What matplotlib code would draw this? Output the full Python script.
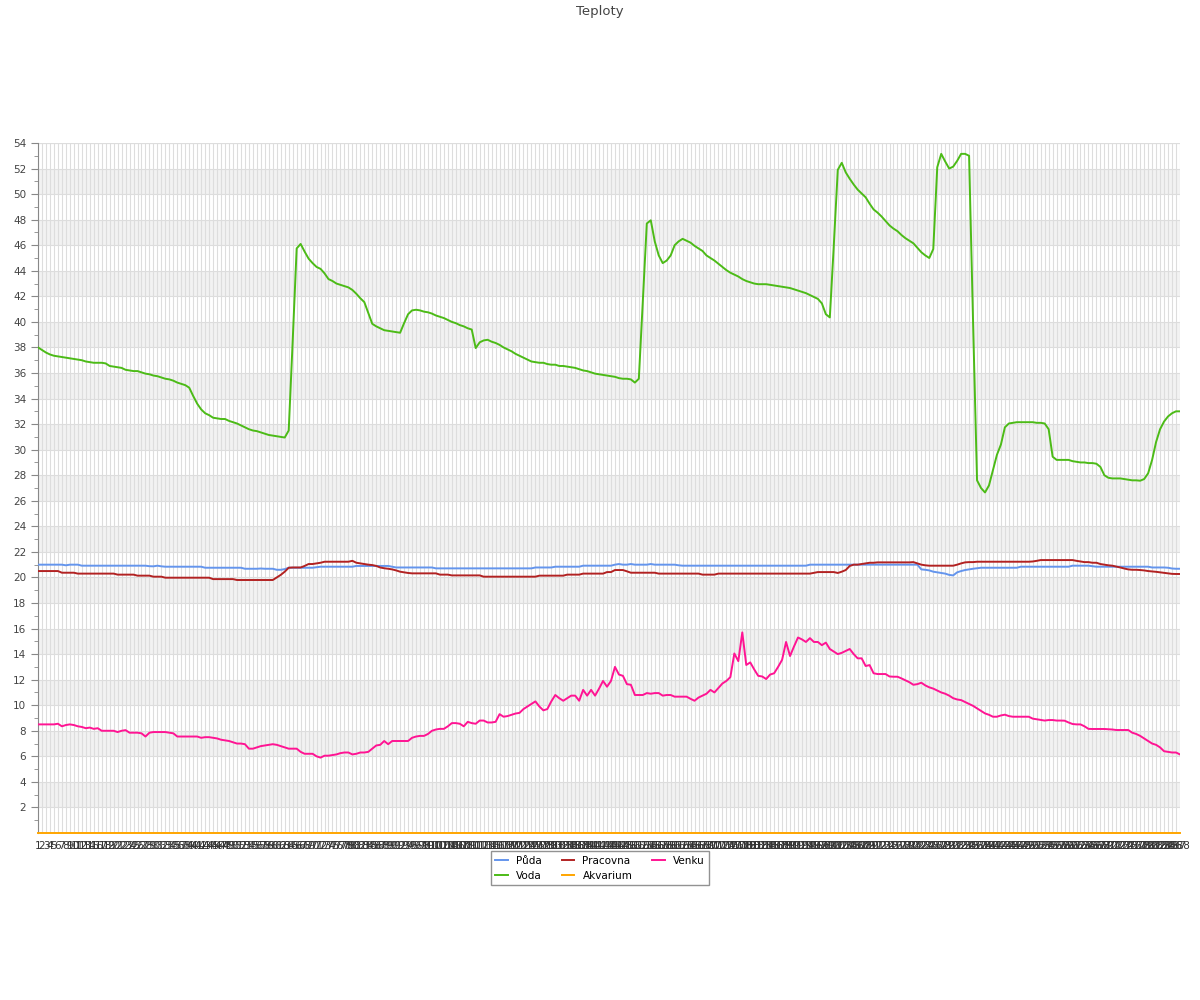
import matplotlib
matplotlib.use("Agg")
import matplotlib.pyplot as plt
import numpy as np

# 288 measurements (one per 5 min), category labels 1..288
labels = [str(i) for i in range(1, 289)]

puda = [
    21.0, 21.0, 21.0, 21.0, 21.0, 21.0, 21.0, 20.95, 21.0, 21.0,
    21.0, 20.92, 20.92, 20.92, 20.92, 20.92, 20.92, 20.92, 20.92, 20.92,
    20.92, 20.92, 20.92, 20.92, 20.92, 20.92, 20.92, 20.92, 20.88, 20.87,
    20.92, 20.87, 20.84, 20.84, 20.84, 20.84, 20.84, 20.84, 20.84, 20.84,
    20.84, 20.84, 20.76, 20.76, 20.76, 20.76, 20.76, 20.76, 20.76, 20.76,
    20.76, 20.76, 20.68, 20.68, 20.68, 20.68, 20.7, 20.68, 20.68, 20.68,
    20.6, 20.6, 20.65, 20.76, 20.76, 20.76, 20.76, 20.76, 20.76, 20.76,
    20.8, 20.84, 20.84, 20.84, 20.84, 20.84, 20.84, 20.84, 20.84, 20.84,
    20.9, 20.9, 20.9, 20.9, 20.9, 20.9, 20.9, 20.9, 20.9, 20.84,
    20.78, 20.78, 20.78, 20.78, 20.78, 20.78, 20.78, 20.78, 20.78, 20.78,
    20.71, 20.71, 20.71, 20.71, 20.71, 20.71, 20.71, 20.71, 20.71, 20.71,
    20.71, 20.71, 20.71, 20.71, 20.71, 20.71, 20.71, 20.71, 20.71, 20.71,
    20.71, 20.71, 20.71, 20.71, 20.71, 20.78, 20.78, 20.78, 20.78, 20.78,
    20.84, 20.84, 20.84, 20.84, 20.84, 20.84, 20.84, 20.92, 20.92, 20.92,
    20.92, 20.92, 20.92, 20.92, 20.92, 21.0, 21.05, 21.0, 21.0, 21.05,
    21.0, 21.0, 21.0, 21.0, 21.05, 21.0, 21.0, 21.0, 21.0, 21.0,
    21.0, 20.95, 20.92, 20.92, 20.92, 20.92, 20.92, 20.92, 20.92, 20.92,
    20.92, 20.92, 20.92, 20.92, 20.92, 20.92, 20.92, 20.92, 20.92, 20.92,
    20.92, 20.92, 20.92, 20.92, 20.92, 20.92, 20.92, 20.92, 20.92, 20.92,
    20.92, 20.92, 20.92, 20.92, 21.0, 21.0, 21.0, 21.0, 21.0, 21.0,
    21.0, 21.0, 21.0, 21.0, 21.0, 21.0, 21.0, 21.0, 21.0, 21.0,
    21.0, 21.0, 21.0, 21.0, 21.0, 21.0, 21.0, 21.0, 21.0, 21.0,
    21.0, 21.0, 20.63, 20.6, 20.55, 20.45, 20.4, 20.35, 20.3, 20.2,
    20.16, 20.4, 20.5, 20.58, 20.63, 20.68, 20.72, 20.76, 20.76, 20.76,
    20.76, 20.76, 20.76, 20.76, 20.76, 20.76, 20.76, 20.84, 20.84, 20.84,
    20.84, 20.84, 20.84, 20.84, 20.84, 20.84, 20.84, 20.84, 20.84, 20.84,
    20.92, 20.92, 20.92, 20.92, 20.92, 20.88, 20.84, 20.84, 20.84, 20.84,
    20.84, 20.84, 20.84, 20.84, 20.84, 20.84, 20.84, 20.84, 20.84, 20.84,
    20.78, 20.78, 20.78, 20.78, 20.76, 20.7, 20.68, 20.68,
]

voda = [
    38.0, 37.8, 37.6, 37.45, 37.35, 37.3, 37.25, 37.2, 37.15, 37.1,
    37.05, 37.0, 36.9, 36.85, 36.8, 36.8, 36.8, 36.75, 36.55, 36.5,
    36.45, 36.4, 36.25, 36.2, 36.15, 36.15, 36.05, 35.95, 35.9, 35.8,
    35.75, 35.65, 35.55, 35.5, 35.4, 35.25, 35.15, 35.05, 34.85, 34.2,
    33.6, 33.15, 32.85, 32.7, 32.5, 32.45, 32.4, 32.4, 32.25, 32.15,
    32.05, 31.9, 31.75, 31.6, 31.5, 31.45, 31.35, 31.25, 31.15, 31.1,
    31.05, 31.0, 30.95, 31.5, 38.5, 45.75, 46.1, 45.5, 44.95, 44.6,
    44.3, 44.15, 43.8, 43.35, 43.2, 43.0, 42.9, 42.8, 42.7, 42.5,
    42.2, 41.85, 41.55, 40.7, 39.85, 39.65, 39.5, 39.35, 39.3, 39.25,
    39.2, 39.15, 39.9, 40.6, 40.9, 40.95, 40.9, 40.8, 40.75, 40.65,
    40.5, 40.4, 40.3, 40.15, 40.0, 39.9, 39.75, 39.65, 39.5, 39.4,
    37.95, 38.4, 38.55, 38.6, 38.45, 38.35, 38.2, 38.0, 37.85, 37.7,
    37.5, 37.35, 37.2, 37.05, 36.9, 36.85, 36.8, 36.8, 36.7, 36.65,
    36.65, 36.55, 36.55, 36.5, 36.45, 36.4, 36.3, 36.2, 36.15, 36.05,
    35.95, 35.9, 35.85, 35.8, 35.75, 35.7, 35.6, 35.55, 35.55, 35.5,
    35.25, 35.55, 41.6, 47.7, 47.95, 46.3, 45.2, 44.6, 44.8, 45.2,
    46.0, 46.3, 46.5, 46.35, 46.2, 45.95, 45.75, 45.55, 45.2, 45.0,
    44.8, 44.55, 44.3, 44.05, 43.85, 43.7, 43.55, 43.35, 43.2, 43.1,
    43.0, 42.95, 42.95, 42.95, 42.9, 42.85, 42.8, 42.75, 42.7, 42.65,
    42.55, 42.45, 42.35, 42.25, 42.1, 41.95, 41.8, 41.45, 40.6, 40.35,
    46.0, 51.9, 52.45, 51.7, 51.2, 50.75, 50.35, 50.05, 49.75, 49.25,
    48.8, 48.55, 48.25, 47.9, 47.55, 47.3, 47.1, 46.8, 46.55, 46.35,
    46.15, 45.8, 45.45, 45.2, 45.0, 45.7, 52.1, 53.15, 52.55, 52.0,
    52.15, 52.6, 53.15, 53.15, 53.0, 40.0, 27.6, 27.0, 26.65, 27.2,
    28.4, 29.6, 30.4, 31.75, 32.05, 32.1, 32.15, 32.15, 32.15, 32.15,
    32.15, 32.1, 32.1, 32.05, 31.6, 29.45, 29.2, 29.2, 29.2, 29.2,
    29.1, 29.05, 29.0, 29.0, 28.95, 28.95, 28.9, 28.65, 28.0, 27.8,
    27.75, 27.75, 27.75, 27.7, 27.65, 27.6, 27.6, 27.57, 27.7, 28.15,
    29.2, 30.6, 31.6, 32.2, 32.6, 32.85, 33.0, 33.0,
]

pracovna = [
    20.5, 20.5, 20.5, 20.5, 20.5, 20.5, 20.37, 20.37, 20.37, 20.37,
    20.3, 20.3, 20.3, 20.3, 20.3, 20.3, 20.3, 20.3, 20.3, 20.3,
    20.22, 20.22, 20.22, 20.22, 20.22, 20.14, 20.14, 20.14, 20.14, 20.06,
    20.06, 20.06, 19.98, 19.98, 19.98, 19.98, 19.98, 19.98, 19.98, 19.98,
    19.98, 19.98, 19.98, 19.98, 19.87, 19.87, 19.87, 19.87, 19.87, 19.87,
    19.8, 19.8, 19.8, 19.8, 19.8, 19.8, 19.8, 19.8, 19.8, 19.8,
    20.0, 20.2, 20.45, 20.76, 20.78, 20.78, 20.78, 20.9, 21.05, 21.05,
    21.1, 21.15, 21.23, 21.23, 21.23, 21.23, 21.23, 21.23, 21.23, 21.3,
    21.15, 21.1, 21.05, 21.0, 20.97, 20.9, 20.78, 20.72, 20.68, 20.63,
    20.55, 20.45, 20.4, 20.35, 20.32, 20.32, 20.32, 20.32, 20.32, 20.32,
    20.32, 20.22, 20.22, 20.22, 20.16, 20.16, 20.16, 20.16, 20.16, 20.16,
    20.16, 20.16, 20.06, 20.06, 20.06, 20.06, 20.06, 20.06, 20.06, 20.06,
    20.06, 20.06, 20.06, 20.06, 20.06, 20.06, 20.14, 20.14, 20.14, 20.14,
    20.14, 20.14, 20.14, 20.22, 20.22, 20.22, 20.22, 20.3, 20.3, 20.3,
    20.3, 20.3, 20.3, 20.42, 20.42, 20.58, 20.58, 20.58, 20.48, 20.37,
    20.37, 20.37, 20.37, 20.37, 20.37, 20.37, 20.3, 20.3, 20.3, 20.3,
    20.3, 20.3, 20.3, 20.3, 20.3, 20.3, 20.3, 20.22, 20.22, 20.22,
    20.22, 20.3, 20.3, 20.3, 20.3, 20.3, 20.3, 20.3, 20.3, 20.3,
    20.3, 20.3, 20.3, 20.3, 20.3, 20.3, 20.3, 20.3, 20.3, 20.3,
    20.3, 20.3, 20.3, 20.3, 20.3, 20.36, 20.42, 20.42, 20.42, 20.42,
    20.42, 20.35, 20.45, 20.58, 20.9, 21.0, 21.0, 21.05, 21.1, 21.15,
    21.15, 21.18, 21.18, 21.18, 21.18, 21.18, 21.18, 21.18, 21.18, 21.18,
    21.2, 21.1, 21.0, 20.95, 20.92, 20.92, 20.92, 20.92, 20.92, 20.92,
    20.92, 21.0, 21.1, 21.18, 21.2, 21.2, 21.23, 21.23, 21.23, 21.23,
    21.23, 21.23, 21.23, 21.23, 21.23, 21.23, 21.23, 21.23, 21.23, 21.23,
    21.25, 21.3, 21.36, 21.36, 21.36, 21.36, 21.36, 21.36, 21.36, 21.36,
    21.36, 21.3, 21.25, 21.2, 21.2, 21.15, 21.15, 21.05, 21.0, 20.95,
    20.92, 20.85, 20.78, 20.7, 20.63, 20.6, 20.6, 20.58, 20.55, 20.5,
    20.47, 20.44, 20.4, 20.36, 20.32, 20.28, 20.27, 20.27,
]

akvarium = [0.0] * 288

venku = [
    8.5, 8.5, 8.5, 8.5, 8.5, 8.55, 8.35, 8.45, 8.5, 8.45,
    8.35, 8.3, 8.2, 8.25, 8.15, 8.2, 8.0, 8.0, 8.0, 8.0,
    7.9, 8.0, 8.05, 7.85, 7.85, 7.85, 7.8, 7.55, 7.85, 7.9,
    7.9, 7.9, 7.9, 7.85, 7.8, 7.55, 7.55, 7.55, 7.55, 7.55,
    7.55, 7.45, 7.5, 7.5, 7.45, 7.4, 7.3, 7.25, 7.2, 7.1,
    7.0, 7.0, 6.95, 6.6, 6.6, 6.7, 6.8, 6.85, 6.9, 6.95,
    6.9, 6.8, 6.7, 6.6, 6.6, 6.6, 6.35, 6.2, 6.2, 6.2,
    6.0, 5.9, 6.05, 6.05, 6.1, 6.15, 6.25, 6.3, 6.3, 6.15,
    6.2, 6.3, 6.3, 6.35, 6.6, 6.85, 6.9, 7.2, 6.95, 7.2,
    7.2, 7.2, 7.2, 7.2, 7.45, 7.55, 7.6, 7.6, 7.75, 8.0,
    8.1, 8.15, 8.15, 8.35, 8.6, 8.6, 8.55, 8.35, 8.7, 8.6,
    8.55, 8.8, 8.8, 8.65, 8.65, 8.7, 9.3, 9.1, 9.15, 9.25,
    9.35, 9.4, 9.7, 9.9, 10.1, 10.3, 9.9, 9.6, 9.7, 10.3,
    10.8, 10.55, 10.35, 10.55, 10.75, 10.75, 10.35, 11.2, 10.75, 11.2,
    10.75, 11.3, 11.9, 11.45, 11.9, 13.0, 12.4, 12.3, 11.65, 11.6,
    10.8, 10.8, 10.8, 10.95, 10.9, 10.95, 10.95, 10.75, 10.8, 10.8,
    10.67, 10.67, 10.67, 10.67, 10.5, 10.35, 10.6, 10.75, 10.9, 11.2,
    11.0, 11.35, 11.7, 11.9, 12.2, 14.05, 13.45, 15.7, 13.15, 13.35,
    12.8, 12.3, 12.25, 12.05, 12.4, 12.5, 13.0, 13.55, 14.95, 13.85,
    14.6, 15.3, 15.15, 14.95, 15.25, 14.95, 14.95, 14.7, 14.9, 14.4,
    14.2, 14.0, 14.1, 14.25, 14.4, 14.0, 13.67, 13.67, 13.07, 13.14,
    12.5, 12.44, 12.44, 12.44, 12.25, 12.23, 12.23, 12.1, 11.95, 11.8,
    11.6, 11.65, 11.76, 11.55, 11.4, 11.3, 11.15, 11.0, 10.9, 10.75,
    10.55, 10.45, 10.4, 10.25, 10.1, 9.95, 9.75, 9.55, 9.36, 9.25,
    9.1, 9.1, 9.2, 9.26, 9.15, 9.1, 9.1, 9.1, 9.1, 9.1,
    8.95, 8.9, 8.85, 8.8, 8.84, 8.84, 8.8, 8.8, 8.79, 8.65,
    8.53, 8.5, 8.5, 8.35, 8.15, 8.14, 8.14, 8.14, 8.14, 8.12,
    8.1, 8.06, 8.06, 8.06, 8.06, 7.85, 7.75, 7.6, 7.4, 7.2,
    7.0, 6.9, 6.7, 6.4, 6.35, 6.3, 6.3, 6.15,
]

SERIES = [
    ("Půda", puda, "#6495ed"),
    ("Voda", voda, "#4cbb17"),
    ("Pracovna", pracovna, "#b22222"),
    ("Akvarium", akvarium, "#ffa500"),
    ("Venku", venku, "#ff1493"),
]

fig = plt.figure(figsize=(12, 10), dpi=100)
ax = fig.add_axes([0.0317, 0.167, 0.9516, 0.69])

n = len(labels)
x = np.arange(n)

# alternating bands
for lo in range(2, 54, 4):
    ax.axhspan(lo, lo + 2, color="#f2f2f2", zorder=0, lw=0)

for name, vals, color in SERIES:
    xs = np.arange(len(vals))
    ax.plot(xs, vals, color=color, lw=1.4, label=name, zorder=3,
            clip_on=(name != "Akvarium"))

ax.set_xlim(0, n - 1)
ax.set_ylim(0, 54)
ax.set_xticks(x)
ax.set_xticklabels(labels, fontsize=7.5, color="#333333")
ax.set_yticks(np.arange(2, 55, 2))
ax.set_yticks(np.arange(1, 55, 1), minor=True)
ax.tick_params(axis="y", which="major", labelsize=7.5, labelcolor="#444444",
               color="#888888", length=5)
ax.tick_params(axis="y", which="minor", color="#888888", length=3)
ax.tick_params(axis="x", length=0, pad=6)

ax.grid(axis="x", color="#dddddd", lw=0.8, zorder=1)
ax.grid(axis="y", which="major", color="#dddddd", lw=0.8, zorder=1)
ax.axhline(54, color="#dddddd", lw=0.8, zorder=1)
ax.set_axisbelow(True)

for s in ("top", "right", "bottom"):
    ax.spines[s].set_visible(False)
ax.spines["left"].set_color("#888888")

fig.text(0.5, 0.989, "Teploty", ha="center", va="center",
         fontsize=9.5, color="#444444")

leg = fig.legend(loc="upper center", bbox_to_anchor=(0.5, 0.154), ncol=3,
                 fontsize=7.5, frameon=True, fancybox=False,
                 edgecolor="#777777", handlelength=1.2, columnspacing=1.9,
                 borderpad=0.45, labelspacing=0.45)
leg.get_frame().set_linewidth(1.0)

fig.savefig("out.png", dpi=100)
